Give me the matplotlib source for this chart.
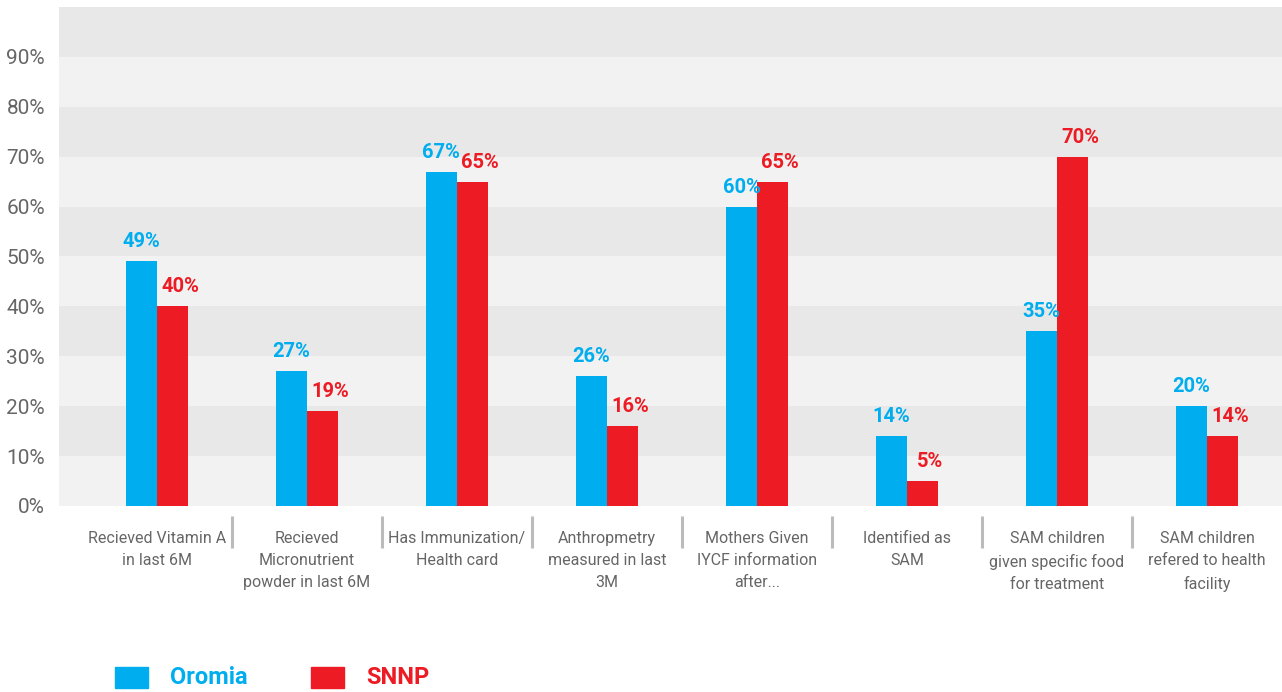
import numpy as np
import matplotlib
matplotlib.use('Agg')
import matplotlib.pyplot as plt
import matplotlib.transforms as transforms

categories = ['Recieved Vitamin A\nin last 6M',
              'Recieved\nMicronutrient\npowder in last 6M',
              'Has Immunization/\nHealth card',
              'Anthropmetry\nmeasured in last\n3M',
              'Mothers Given\nIYCF information\nafter...',
              'Identified as\nSAM',
              'SAM children\ngiven specific food\nfor treatment',
              'SAM children\nrefered to health\nfacility']
oromia = [49, 27, 67, 26, 60, 14, 35, 20]
snnp = [40, 19, 65, 16, 65, 5, 70, 14]
series_names = ['Oromia', 'SNNP']
yticks = list(range(0, 100, 10))

blue = '#00AEEF'
red = '#ED1C24'
grey_text = '#666666'
narrow = ['Roboto', 'DejaVu Sans']

fig = plt.figure(figsize=(12.82, 6.92), dpi=100)
ax = fig.add_axes([0.046, 0.2688, 0.954, 0.7211])

# alternating background bands
for lo in range(0, 100, 10):
    c = '#e8e8e8' if (lo // 10) % 2 == 1 else '#f2f2f2'
    ax.axhspan(lo, lo + 10, color=c, lw=0, zorder=0)

x = np.arange(len(categories))
w = 0.207
ax.bar(x - w / 2, oromia, w, color=blue, zorder=2)
ax.bar(x + w / 2, snnp, w, color=red, zorder=2)

for xi, v in zip(x, oromia):
    ax.text(xi - w / 2, v + 2.0, f'{v}%', ha='center', va='bottom', color=blue,
            fontsize=14.5, fontweight='bold', family=narrow)
for xi, v in zip(x, snnp):
    ax.text(xi + w / 2 + 0.05, v + 2.0, f'{v}%', ha='center', va='bottom', color=red,
            fontsize=14.5, fontweight='bold', family=narrow)

ax.set_xlim(-0.653, 7.5)
ax.set_ylim(0, 100)
ax.set_yticks(yticks)
ax.set_yticklabels([f'{t}%' for t in yticks], color=grey_text, fontsize=15, family=narrow)
ax.tick_params(axis='y', length=0, pad=10)
ax.set_xticks([])
for s in ax.spines.values():
    s.set_visible(False)

trans = transforms.blended_transform_factory(ax.transData, ax.transAxes)
for xi, lab in zip(x, categories):
    ax.text(xi, -0.05, lab, transform=trans, ha='center', va='top', color=grey_text,
            fontsize=11.5, family=narrow, linespacing=1.6, clip_on=False)
for xi in x[:-1]:
    ax.plot([xi + 0.5, xi + 0.5], [-0.02, -0.084], transform=trans, color='#bbbbbb',
            lw=2.2, clip_on=False, solid_capstyle='butt')

# legend
fig.patches.append(plt.Rectangle((115 / 1282, 4 / 692), 33 / 1282, 21 / 692,
                                 transform=fig.transFigure, color=blue))
fig.text(170 / 1282, 14 / 692, series_names[0], color=blue, fontsize=17,
         fontweight='bold', family=narrow, va='center')
fig.patches.append(plt.Rectangle((311 / 1282, 4 / 692), 33 / 1282, 21 / 692,
                                 transform=fig.transFigure, color=red))
fig.text(366 / 1282, 14 / 692, series_names[1], color=red, fontsize=17,
         fontweight='bold', family=narrow, va='center')

fig.savefig('out.png', dpi=100)
